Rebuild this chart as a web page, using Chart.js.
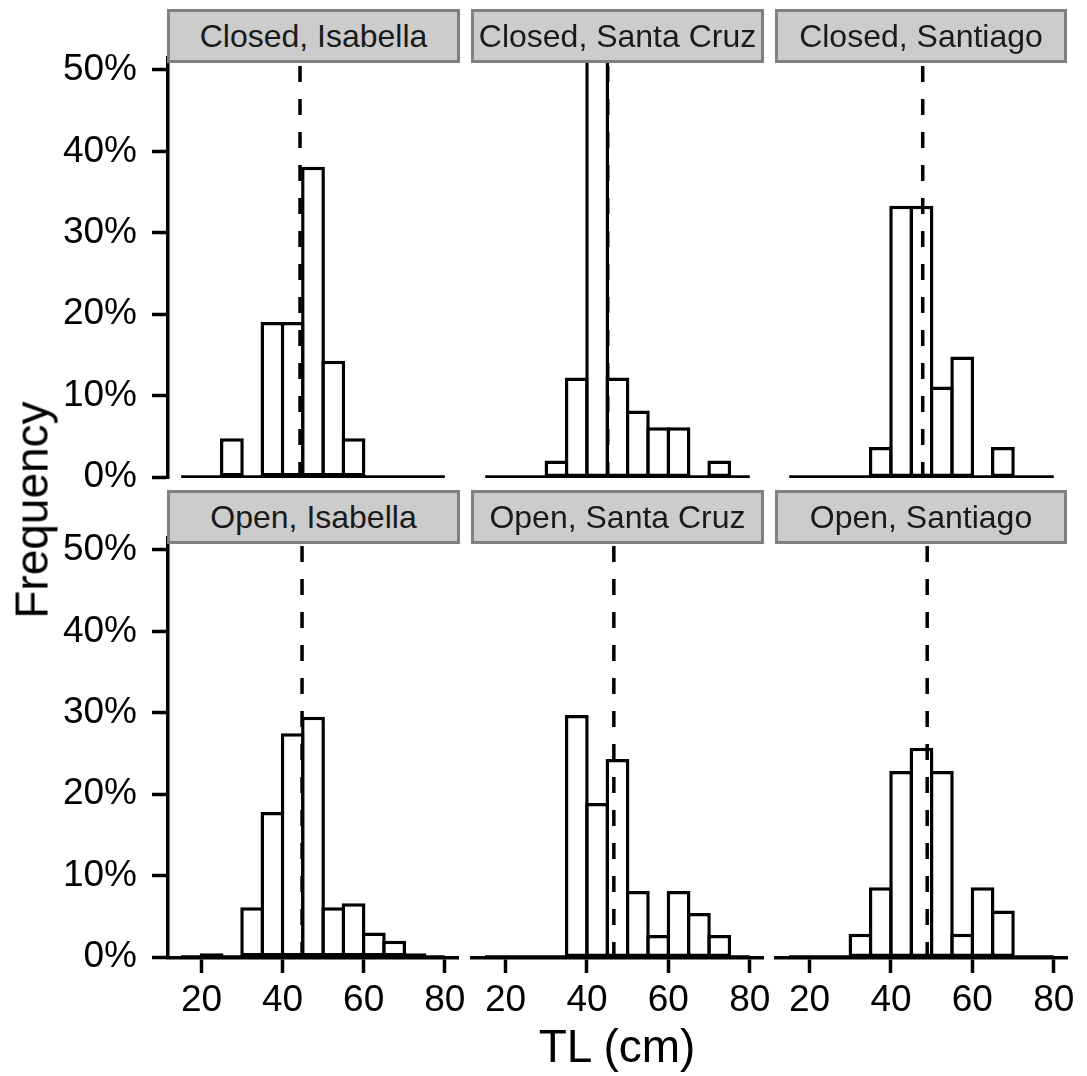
<!DOCTYPE html>
<html>
<head>
<meta charset="utf-8">
<title>TL (cm)</title>
<script src="https://cdn.jsdelivr.net/npm/chart.js@4.4.1/dist/chart.umd.min.js"></script>
<style>
  html, body { margin: 0; padding: 0; background: #fff; }
  #wrap {
    position: relative; width: 1087px; height: 1076px; overflow: hidden;
    font-family: 'Liberation Sans', Arial, sans-serif;
  }
  #wrap canvas { position: absolute; }
  .strip {
    position: absolute; box-sizing: border-box; height: 54px;
    background: #cccccc; border: 3px solid #808080;
    color: #1a1a1a; font-size: 32px; line-height: 48px;
    text-align: center; white-space: nowrap; z-index: 2;
  }
  .axis-title {
    position: absolute; color: #000; font-size: 46px; white-space: nowrap;
    line-height: 1.15; z-index: 2;
  }
</style>
</head>
<body>
<div id="wrap"></div>
<script>
// Histogramas de talla (TL) por zona y por isla, bins de 5 cm desde 15 hasta 80
const BIN = 5;
const binStarts = [15, 20, 25, 30, 35, 40, 45, 50, 55, 60, 65, 70, 75];
const xTicks = [20, 40, 60, 80];
const yTicks = [0, 10, 20, 30, 40, 50];

// Frecuencia (%) por bin
const closedIsabella  = [0, 0, 4.76, 0, 19.05, 19.05, 38.10, 14.29, 4.76, 0, 0, 0, 0];
const closedSantaCruz = [0, 0, 0, 2.04, 12.24, 52.0, 12.24, 8.16, 6.12, 6.12, 0, 2.04, 0];
const closedSantiago  = [0, 0, 0, 0, 3.70, 33.33, 33.33, 11.11, 14.81, 0, 3.70, 0, 0];
const openIsabella    = [0, 0.45, 0, 6.1, 17.8, 27.5, 29.5, 6.1, 6.6, 3.0, 2.0, 0.45, 0];
const openSantaCruz   = [0, 0, 0, 0, 29.73, 18.92, 24.32, 8.11, 2.70, 8.11, 5.41, 2.70, 0];
const openSantiago    = [0, 0, 0, 2.86, 8.57, 22.86, 25.71, 22.86, 2.86, 8.57, 5.71, 0, 0];

// Media de TL (linea punteada)
const means = {
    closedIsabella: 44.3, closedSantaCruz: 45.1, closedSantiago: 47.8,
    openIsabella: 44.8, openSantaCruz: 46.6, openSantiago: 48.9
};

const panels = [
    { title: 'Closed, Isabella',    values: closedIsabella,  mean: means.closedIsabella,  row: 0, col: 0 },
    { title: 'Closed, Santa Cruz',  values: closedSantaCruz, mean: means.closedSantaCruz, row: 0, col: 1 },
    { title: 'Closed, Santiago',    values: closedSantiago,  mean: means.closedSantiago,  row: 0, col: 2 },
    { title: 'Open, Isabella',      values: openIsabella,    mean: means.openIsabella,    row: 1, col: 0 },
    { title: 'Open, Santa Cruz',    values: openSantaCruz,   mean: means.openSantaCruz,   row: 1, col: 1 },
    { title: 'Open, Santiago',      values: openSantiago,    mean: means.openSantiago,    row: 1, col: 2 }
];

// Escalas compartidas (con un poco de margen como en ggplot)
const X_MIN = 11.75, X_MAX = 83.25;
const Y_MIN = -0.12, Y_MAX = 51.47;

// Geometria de la rejilla de paneles
const PANEL_W = 290;
const LINE_W = 3.5;
const BAR_PX = PANEL_W / (X_MAX - X_MIN) * BIN + LINE_W; // borde centrado en el limite del bin

const COLS = [
    { left: 0,   width: 468, padL: 0,  padR: 10, yAxis: true, axisW: 168, stripX: 167, stripW: 293 },
    { left: 462, width: 311, padL: 10, padR: 10, yAxis: false, stripX: 471, stripW: 293 },
    { left: 766, width: 321, padL: 10, padR: 20, yAxis: false, stripX: 775, stripW: 292 }
];
const ROWS = [
    { top: 0,   height: 500, padTop: 58, padBottom: 22, xAxis: false, stripY: 9 },
    { top: 480, height: 596, padTop: 58, padBottom: 0,  xAxis: true, axisH: 118, stripY: 490 }
];

const FONT = "'Liberation Sans', Arial, sans-serif";
Chart.defaults.font.family = FONT;

const wrap = document.getElementById('wrap');

function makePanel(p) {
    const col = COLS[p.col];
    const row = ROWS[p.row];

    const canvas = document.createElement('canvas');
    canvas.width = col.width;
    canvas.height = row.height;
    canvas.style.left = col.left + 'px';
    canvas.style.top = row.top + 'px';
    wrap.appendChild(canvas);

    const bars = binStarts.map((s, i) => ({ x: s + BIN / 2, y: p.values[i] }));
    const binEnd = binStarts[binStarts.length - 1] + BIN;

    new Chart(canvas, {
        type: 'bar',
        data: {
            datasets: [
                {
                    // media
                    type: 'line',
                    data: [{ x: p.mean, y: Y_MIN }, { x: p.mean, y: Y_MAX }],
                    borderColor: '#000',
                    borderWidth: 3.5,
                    borderDash: [16, 17],
                    pointRadius: 0,
                    order: 0
                },
                {
                    // linea base de los bins vacios
                    type: 'line',
                    data: [{ x: binStarts[0], y: 0 }, { x: binEnd, y: 0 }],
                    borderColor: '#000',
                    borderWidth: LINE_W,
                    pointRadius: 0,
                    order: 1
                },
                {
                    type: 'bar',
                    data: bars,
                    backgroundColor: '#fff',
                    borderColor: '#000',
                    borderWidth: LINE_W,
                    borderSkipped: false,
                    barThickness: BAR_PX,
                    inflateAmount: 0,
                    order: 2
                }
            ]
        },
        options: {
            responsive: false,
            animation: false,
            events: [],
            layout: { padding: { top: row.padTop, bottom: row.padBottom, left: col.padL, right: col.padR } },
            plugins: { legend: { display: false }, tooltip: { enabled: false } },
            scales: {
                x: {
                    type: 'linear',
                    min: X_MIN,
                    max: X_MAX,
                    offset: false,
                    display: row.xAxis,
                    afterBuildTicks: (ax) => { ax.ticks = xTicks.map(v => ({ value: v })); },
                    afterFit: (ax) => {
                        ax.height = row.axisH || 0;
                        ax.paddingLeft = 0;
                        ax.paddingRight = 0;
                    },
                    border: { display: true, color: '#000', width: LINE_W },
                    grid: { offset: false, drawOnChartArea: false, tickLength: 15, tickWidth: LINE_W, tickColor: '#000' },
                    ticks: { color: '#000', font: { size: 37 }, padding: 6, maxRotation: 0, autoSkip: false }
                },
                y: {
                    type: 'linear',
                    min: Y_MIN,
                    max: Y_MAX,
                    display: col.yAxis,
                    afterBuildTicks: (ax) => { ax.ticks = yTicks.map(v => ({ value: v })); },
                    afterFit: (ax) => {
                        ax.width = col.axisW || 0;
                        ax.paddingTop = 0;
                        ax.paddingBottom = 0;
                    },
                    border: { display: true, color: '#000', width: LINE_W },
                    grid: { drawOnChartArea: false, tickLength: 16, tickWidth: LINE_W, tickColor: '#000' },
                    ticks: {
                        color: '#000',
                        font: { size: 37 },
                        padding: 15,
                        callback: (v) => v + '%'
                    }
                }
            }
        }
    });

    // etiqueta del facet
    const strip = document.createElement('div');
    strip.className = 'strip';
    strip.style.left = col.stripX + 'px';
    strip.style.top = row.stripY + 'px';
    strip.style.width = col.stripW + 'px';
    strip.innerText = p.title;
    wrap.appendChild(strip);
}

panels.forEach(makePanel);

// titulos de los ejes
const yTitle = document.createElement('div');
yTitle.className = 'axis-title';
yTitle.innerText = 'Frequency';
yTitle.style.left = '32px';
yTitle.style.top = '510px';
yTitle.style.transform = 'translate(-50%, -50%) rotate(-90deg)';
wrap.appendChild(yTitle);

const xTitle = document.createElement('div');
xTitle.className = 'axis-title';
xTitle.innerText = 'TL (cm)';
xTitle.style.left = '617px';
xTitle.style.top = '1046px';
xTitle.style.transform = 'translate(-50%, -50%)';
wrap.appendChild(xTitle);
</script>
</body>
</html>
